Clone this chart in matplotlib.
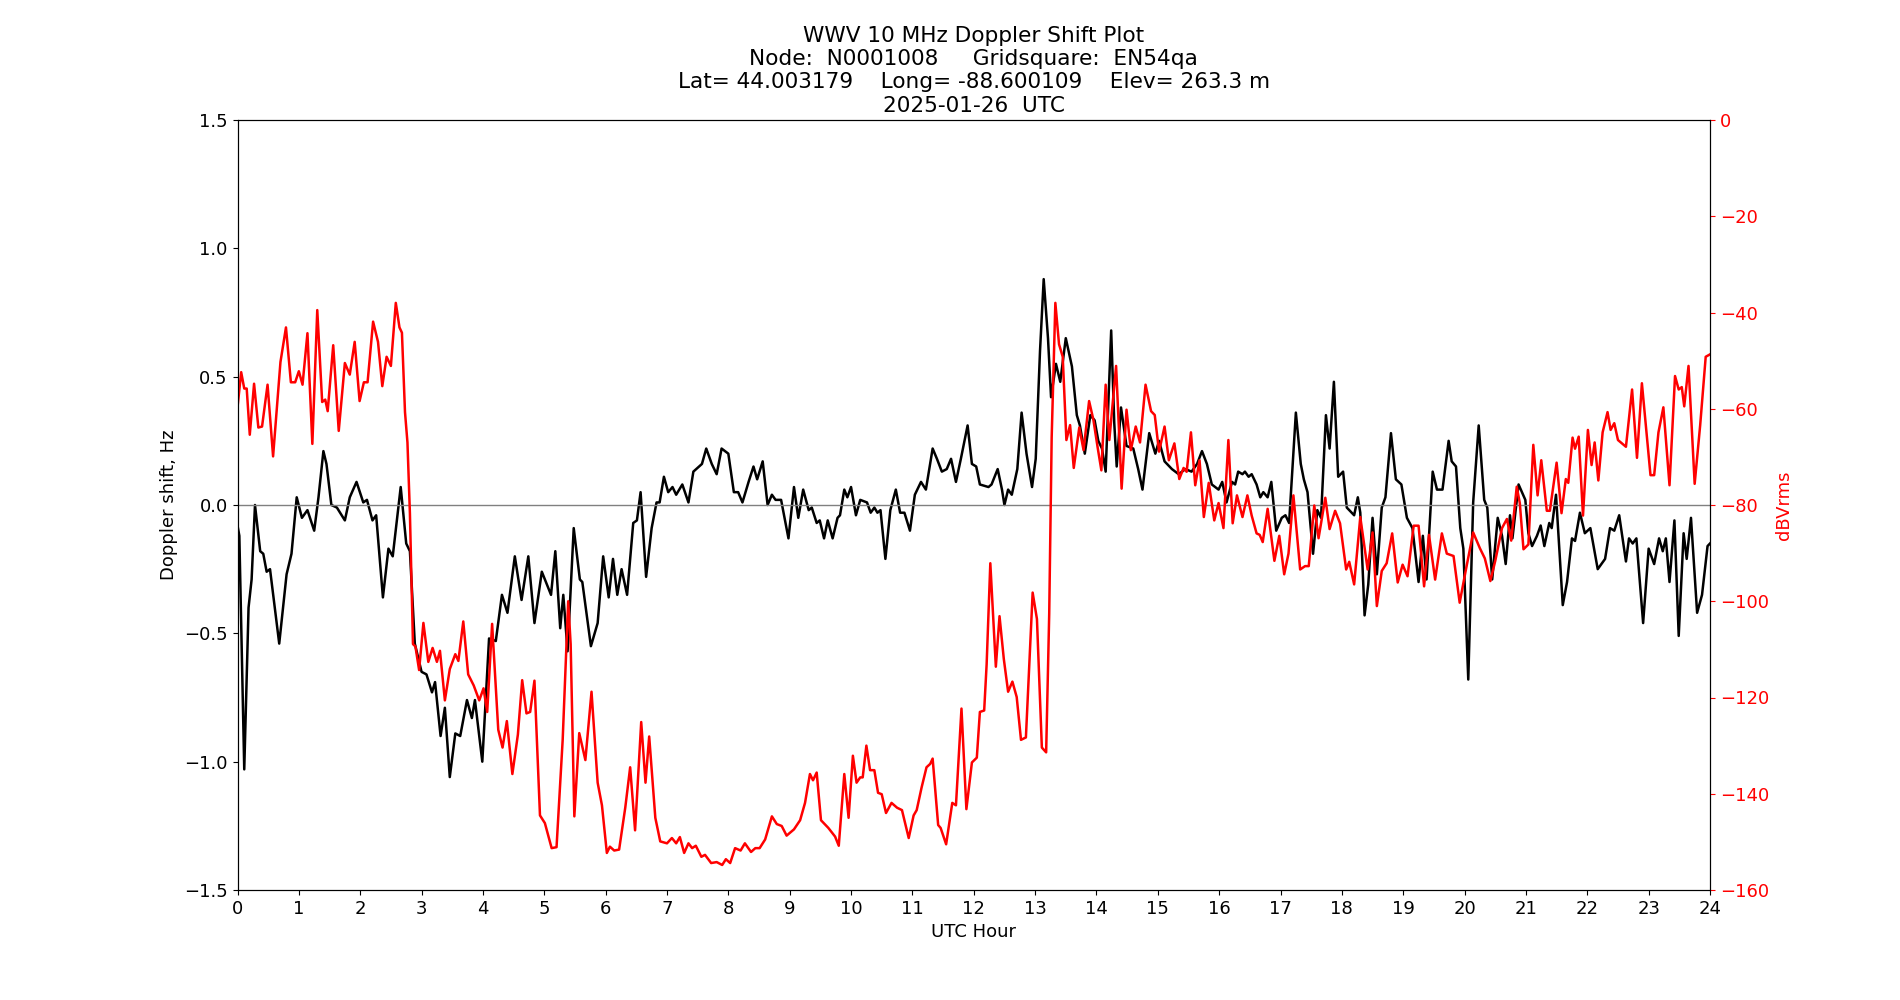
import matplotlib.pyplot as plt
import numpy as np

# Doppler-Verschiebung (Hz): Stunde UTC und Wert
doppler_hour = [0.0, 0.03, 0.11, 0.18, 0.23, 0.285, 0.37, 0.42, 0.475, 0.53, 0.68, 0.80, 0.88, 0.965, 1.05, 1.14, 1.25, 1.32,
                1.40, 1.45, 1.53, 1.62, 1.75, 1.83, 1.94, 2.05, 2.11, 2.20, 2.26, 2.37, 2.46, 2.53, 2.66, 2.75, 2.81, 2.89,
                3.00, 3.08, 3.17, 3.22, 3.31, 3.38, 3.46, 3.55, 3.63, 3.74, 3.82,
                3.87, 3.99, 4.10, 4.21, 4.31, 4.40, 4.52, 4.63, 4.74, 4.84, 4.96, 5.11, 5.18, 5.26, 5.31, 5.38, 5.48, 5.58,
                5.62, 5.76, 5.87, 5.96, 6.05, 6.12, 6.19, 6.26, 6.35, 6.45, 6.51, 6.57, 6.66, 6.75, 6.83, 6.88, 6.95, 7.02,
                7.09, 7.15, 7.25, 7.35, 7.43, 7.57, 7.64, 7.73, 7.81,
                7.89, 8.00, 8.09, 8.16, 8.23, 8.33, 8.41, 8.47, 8.56, 8.64, 8.71, 8.77, 8.86, 8.98, 9.07, 9.14, 9.22, 9.31,
                9.36, 9.44, 9.49, 9.56, 9.62, 9.70, 9.78, 9.82, 9.89, 9.94, 10.00, 10.08, 10.15, 10.26, 10.32, 10.38, 10.43,
                10.48, 10.56, 10.64, 10.73, 10.80, 10.87, 10.96, 11.04, 11.14, 11.22, 11.33, 11.40, 11.48, 11.56, 11.63,
                11.71, 11.79,
                11.90, 11.97, 12.04, 12.10, 12.24, 12.29, 12.39, 12.46, 12.50, 12.56, 12.62, 12.71, 12.78, 12.86, 12.95,
                13.01, 13.08, 13.14, 13.21, 13.26, 13.34, 13.41, 13.50, 13.60, 13.68, 13.73, 13.81, 13.90, 13.97, 14.03,
                14.09, 14.15, 14.24, 14.29, 14.33, 14.40, 14.49, 14.60, 14.68, 14.75, 14.86, 14.96, 15.02, 15.11, 15.23,
                15.34, 15.45, 15.55, 15.64, 15.72, 15.80,
                15.88, 15.99, 16.05, 16.12, 16.21, 16.26, 16.31, 16.38, 16.42, 16.48, 16.53, 16.61, 16.67, 16.72, 16.79,
                16.85, 16.93, 17.02, 17.08, 17.14, 17.25, 17.33, 17.38, 17.44, 17.53, 17.60, 17.66, 17.74, 17.80, 17.87,
                17.94, 18.02, 18.08, 18.16, 18.20, 18.26, 18.30, 18.37, 18.43, 18.50, 18.57, 18.65, 18.71, 18.80, 18.88,
                18.97, 19.06, 19.15, 19.25, 19.32, 19.38, 19.48, 19.55, 19.64, 19.74, 19.79, 19.86,
                19.93, 19.98, 20.06, 20.14, 20.23, 20.32, 20.37, 20.45, 20.54, 20.61, 20.67, 20.74, 20.78, 20.88, 20.99,
                21.04, 21.10, 21.18, 21.24, 21.30, 21.38, 21.42, 21.49, 21.60, 21.67, 21.75, 21.80, 21.88, 21.96, 22.05,
                22.17, 22.29, 22.37, 22.44, 22.52, 22.63, 22.68, 22.74, 22.80, 22.91, 23.00, 23.09, 23.17, 23.23, 23.28,
                23.34, 23.42, 23.49, 23.57, 23.62, 23.69, 23.79, 23.87, 23.96, 24.00]
doppler_hz = [-0.08, -0.12, -1.03, -0.40, -0.29, 0.0, -0.18, -0.19, -0.26, -0.25, -0.54, -0.27, -0.19, 0.03, -0.05, -0.02, -0.10, 0.03,
              0.21, 0.16, 0.0, -0.01, -0.06, 0.03, 0.09, 0.01, 0.02, -0.06, -0.04, -0.36, -0.17, -0.20, 0.07, -0.15, -0.18, -0.54,
              -0.65, -0.66, -0.73, -0.69, -0.90, -0.79, -1.06, -0.89, -0.90, -0.76, -0.83,
              -0.76, -1.00, -0.52, -0.53, -0.35, -0.42, -0.20, -0.37, -0.20, -0.46, -0.26, -0.35, -0.18, -0.48, -0.35, -0.57, -0.09, -0.29,
              -0.30, -0.55, -0.46, -0.20, -0.36, -0.21, -0.35, -0.25, -0.35, -0.07, -0.06, 0.05, -0.28, -0.09, 0.01, 0.01, 0.11, 0.05,
              0.07, 0.04, 0.08, 0.01, 0.13, 0.16, 0.22, 0.16, 0.12,
              0.22, 0.20, 0.05, 0.05, 0.01, 0.09, 0.15, 0.10, 0.17, 0.0, 0.04, 0.02, 0.02, -0.13, 0.07, -0.05, 0.06, -0.02,
              -0.01, -0.07, -0.06, -0.13, -0.06, -0.13, -0.05, -0.04, 0.06, 0.03, 0.07, -0.04, 0.02, 0.01, -0.03, -0.01, -0.03,
              -0.02, -0.21, -0.02, 0.06, -0.03, -0.03, -0.10, 0.04, 0.09, 0.06, 0.22, 0.18, 0.13, 0.14, 0.18,
              0.09, 0.18,
              0.31, 0.16, 0.15, 0.08, 0.07, 0.08, 0.14, 0.06, 0.0, 0.06, 0.04, 0.14, 0.36, 0.20, 0.07,
              0.18, 0.60, 0.88, 0.65, 0.42, 0.55, 0.48, 0.65, 0.54, 0.35, 0.31, 0.20, 0.35, 0.33, 0.25,
              0.22, 0.13, 0.68, 0.32, 0.15, 0.38, 0.23, 0.22, 0.14, 0.06, 0.28, 0.20, 0.25, 0.17, 0.14,
              0.12, 0.14, 0.13, 0.16, 0.21, 0.16,
              0.08, 0.06, 0.09, 0.01, 0.09, 0.08, 0.13, 0.12, 0.13, 0.11, 0.12, 0.08, 0.03, 0.05, 0.03,
              0.09, -0.10, -0.05, -0.04, -0.07, 0.36, 0.16, 0.10, 0.05, -0.19, -0.02, -0.05, 0.35, 0.22, 0.48,
              0.11, 0.13, -0.01, -0.03, -0.04, 0.03, -0.03, -0.43, -0.31, -0.05, -0.27, -0.01, 0.03, 0.28, 0.10,
              0.08, -0.05, -0.09, -0.30, -0.12, -0.29, 0.13, 0.06, 0.06, 0.25, 0.17, 0.15,
              -0.09, -0.17, -0.68, 0.01, 0.31, 0.02, -0.01, -0.29, -0.05, -0.12, -0.23, -0.04, -0.13, 0.08, 0.02,
              -0.11, -0.16, -0.12, -0.08, -0.16, -0.07, -0.09, 0.04, -0.39, -0.30, -0.13, -0.14, -0.03, -0.11, -0.09,
              -0.25, -0.21, -0.09, -0.10, -0.04, -0.22, -0.13, -0.15, -0.13, -0.46, -0.17, -0.23, -0.13, -0.18, -0.13,
              -0.30, -0.06, -0.51, -0.11, -0.21, -0.05, -0.42, -0.35, -0.16, -0.15]

# Signalpegel (dBVrms)
level_hour = [0.0, 0.06, 0.11, 0.15, 0.20, 0.27, 0.34, 0.40, 0.49, 0.58, 0.70, 0.79, 0.87, 0.94, 1.00, 1.06, 1.14, 1.22,
              1.30, 1.38, 1.43, 1.47, 1.56, 1.65, 1.75, 1.83, 1.91, 1.99, 2.06, 2.12, 2.21, 2.29, 2.36, 2.43, 2.50, 2.58,
              2.64, 2.68, 2.73, 2.77, 2.81, 2.86, 2.90, 2.96, 3.03, 3.11, 3.18, 3.25, 3.30, 3.38, 3.46, 3.55, 3.60, 3.68,
              3.76, 3.85,
              3.94, 4.01, 4.07, 4.15, 4.25, 4.32, 4.39, 4.48, 4.57, 4.64, 4.71, 4.77, 4.84, 4.93, 5.01, 5.12, 5.20, 5.30,
              5.39, 5.43, 5.49, 5.57, 5.67, 5.77, 5.87, 5.94, 6.02, 6.07, 6.14, 6.22, 6.32, 6.40, 6.48, 6.58, 6.65, 6.71,
              6.81, 6.89, 7.00, 7.08, 7.15, 7.21, 7.28, 7.35, 7.41, 7.47, 7.56, 7.62, 7.72, 7.81,
              7.90, 7.96, 8.03, 8.11, 8.20, 8.27, 8.37, 8.44, 8.51, 8.60, 8.71, 8.79, 8.87, 8.95, 9.07, 9.17, 9.25, 9.33,
              9.38, 9.44, 9.51, 9.63, 9.74, 9.80, 9.89, 9.96, 10.03, 10.09, 10.15, 10.19, 10.25, 10.31, 10.38, 10.44,
              10.50, 10.57, 10.66, 10.75, 10.83, 10.94, 11.02, 11.07, 11.15, 11.23, 11.29, 11.33, 11.42, 11.46, 11.55,
              11.65, 11.71, 11.80,
              11.88, 11.97, 12.05, 12.10, 12.17, 12.21, 12.27, 12.36, 12.42, 12.49, 12.56, 12.63, 12.70, 12.77, 12.85,
              12.96, 13.03, 13.11, 13.18, 13.23, 13.27, 13.33, 13.39, 13.45, 13.51, 13.57, 13.63, 13.72, 13.79, 13.88,
              13.95, 14.02, 14.08, 14.15, 14.21, 14.32, 14.41, 14.49, 14.56, 14.64, 14.71, 14.80, 14.89, 14.95, 15.02,
              15.11, 15.18, 15.27, 15.35, 15.42, 15.47, 15.54, 15.61, 15.68, 15.75, 15.83,
              15.92, 15.99, 16.07, 16.15, 16.22, 16.29, 16.38, 16.46, 16.53, 16.61, 16.66, 16.71, 16.79, 16.90, 16.98,
              17.06, 17.13, 17.21, 17.32, 17.40, 17.46, 17.55, 17.62, 17.73, 17.80, 17.89, 17.97, 18.07, 18.12, 18.20,
              18.30, 18.42, 18.50, 18.57, 18.65, 18.73, 18.82, 18.91, 18.99, 19.07, 19.17, 19.25, 19.34, 19.42, 19.52,
              19.63, 19.71, 19.82,
              19.92, 20.01, 20.14, 20.25, 20.33, 20.42, 20.50, 20.61, 20.69, 20.76, 20.85, 20.90, 20.96, 21.04, 21.12,
              21.19, 21.25, 21.34, 21.39, 21.50, 21.58, 21.65, 21.69, 21.76, 21.80, 21.86, 21.93, 22.01, 22.07, 22.12,
              22.18, 22.25, 22.33, 22.38, 22.44, 22.50, 22.63, 22.73, 22.81, 22.89, 23.03, 23.09, 23.16, 23.24, 23.34,
              23.43, 23.49, 23.54, 23.58, 23.65, 23.75, 23.84, 23.93, 24.00]
level_db = [-59.7, -52.4, -55.8, -55.8, -65.4, -54.8, -63.9, -63.7, -55.0, -69.9, -50.3, -43.1, -54.5, -54.5, -52.2, -55.0, -44.3, -67.3,
            -39.5, -58.6, -58.1, -60.5, -46.8, -64.6, -50.5, -52.9, -46.1, -58.4, -54.5, -54.5, -41.9, -46.1, -55.3, -49.2, -51.1, -38.0,
            -43.1, -44.2, -60.7, -67.0, -81.7, -108.9, -109.4, -114.3, -104.5, -112.6, -109.7, -112.6, -110.3, -120.6, -114.1, -111.0, -112.4, -104.2,
            -115.2, -117.5,
            -120.6, -118.1, -123.0, -104.7, -126.7, -130.4, -124.9, -135.9, -127.7, -116.4, -123.3, -123.0, -116.5, -144.5, -146.1, -151.3, -151.1, -128.8,
            -100.0, -108.9, -144.7, -127.4, -133.0, -118.8, -137.7, -142.4, -152.3, -151.0, -151.8, -151.6, -142.9, -134.5, -147.6, -125.1, -137.7, -128.1,
            -145.0, -149.9, -150.3, -149.2, -150.3, -149.0, -152.3, -150.3, -151.3, -150.8, -153.1, -152.7, -154.4, -154.2,
            -154.8, -153.6, -154.4, -151.3, -151.8, -150.3, -152.1, -151.3, -151.3, -149.5, -144.7, -146.3, -146.7, -148.7, -147.4, -145.5, -141.9, -135.9,
            -137.2, -135.6, -145.5, -147.1, -148.9, -150.8, -135.9, -145.0, -132.1, -137.7, -136.6, -136.6, -130.0, -135.1, -135.1, -139.8,
            -140.1, -144.0, -141.9, -142.9, -143.4, -149.2, -144.5, -143.4, -138.7, -134.5, -133.8, -132.7, -146.5, -147.1, -150.5,
            -141.9, -142.4, -122.3,
            -143.2, -133.5, -132.5, -123.0, -122.7, -113.1, -92.1, -113.6, -103.1, -112.0, -118.8, -116.7, -119.9, -128.8, -128.3,
            -98.2, -103.7, -130.4, -131.4, -102.6, -66.0, -38.0, -46.6, -49.2, -66.5, -63.4, -72.3, -63.9, -68.6, -58.4,
            -62.3, -68.1, -72.8, -55.0, -66.5, -51.1, -76.6, -60.2, -68.6, -63.7, -67.0, -55.0, -60.5, -61.3, -68.9,
            -63.7, -70.7, -67.2, -74.6, -72.3, -73.1, -64.9, -75.9, -70.7, -82.5, -75.4,
            -83.2, -79.6, -84.8, -66.5, -83.8, -78.0, -82.5, -78.0, -82.2, -85.9, -86.2, -87.7, -80.8, -91.6, -86.4,
            -94.4, -90.1, -78.0, -93.4, -92.7, -92.7, -80.1, -86.9, -78.5, -85.0, -81.2, -83.8, -93.4, -91.8, -96.5,
            -82.5, -93.4, -85.7, -101.0, -93.7, -92.1, -85.9, -96.1, -92.4, -94.8, -84.3, -84.3, -96.9, -86.2, -95.5,
            -85.9, -90.1, -90.6,
            -100.3, -94.2, -85.7, -89.0, -91.1, -95.8, -91.6, -84.8, -82.9, -87.4, -76.2, -79.6, -89.2, -88.2, -67.5,
            -78.0, -70.7, -81.2, -81.2, -71.2, -81.7, -74.6, -75.4, -66.0, -68.3, -65.8, -82.2, -64.4, -71.7, -67.0,
            -74.9, -64.9, -60.7, -64.4, -63.0, -66.5, -67.9, -56.0, -70.2, -54.7, -73.8, -73.8, -64.9, -59.7, -75.9,
            -53.2, -56.0, -55.5, -59.5, -51.1, -75.6, -63.4, -49.2, -48.7]

title = ('WWV 10 MHz Doppler Shift Plot\n'
         'Node:  N0001008     Gridsquare:  EN54qa\n'
         'Lat= 44.003179    Long= -88.600109    Elev= 263.3 m\n'
         '2025-01-26  UTC')

plt.rcParams['font.size'] = 13

fig, ax1 = plt.subplots(figsize=(19, 10), dpi=100)

# Doppler (linke Achse)
ax1.plot(doppler_hour, doppler_hz, color='black', linewidth=1.8)
ax1.axhline(0, color='gray', linewidth=1)
ax1.set_xlim(0, 24)
ax1.set_xticks(np.arange(0, 25, 1))
ax1.set_ylim(-1.5, 1.5)
ax1.set_yticks(np.arange(-1.5, 1.51, 0.5))
ax1.set_xlabel('UTC Hour')
ax1.set_ylabel('Doppler shift, Hz')
ax1.set_title(title, fontsize=15.6)

# Pegel (rechte Achse)
ax2 = ax1.twinx()
ax2.plot(level_hour, level_db, color='red', linewidth=1.8)
ax2.set_ylim(-160, 0)
ax2.set_yticks(np.arange(-160, 1, 20))
ax2.set_ylabel('dBVrms', color='red')
ax2.tick_params(axis='y', colors='red')

plt.savefig('out.png', dpi=100)
